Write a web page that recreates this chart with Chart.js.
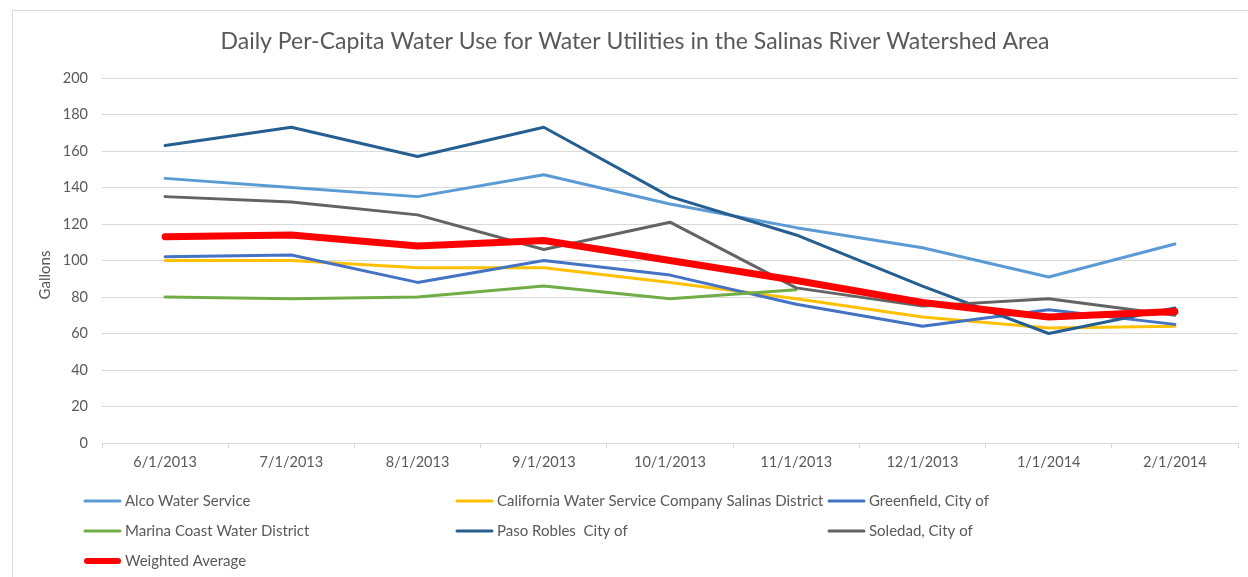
<!DOCTYPE html>
<html>
<head>
<meta charset="utf-8">
<title>Daily Per-Capita Water Use</title>
<script src="https://cdn.jsdelivr.net/npm/chart.js@4/dist/chart.umd.min.js"></script>
<style>
  html, body { margin: 0; padding: 0; background: #fff; }
  #wrap { width: 1248px; height: 577px; position: relative; }
</style>
</head>
<body>
<div id="wrap"><canvas id="waterUseChart"></canvas></div>
<script>
// === Data ===

const months = ["6/1/2013", "7/1/2013", "8/1/2013", "9/1/2013", "10/1/2013", "11/1/2013", "12/1/2013", "1/1/2014", "2/1/2014"];

const alcoWater = [145, 140, 135, 147, 131, 118, 107, 91, 109];
const californiaWater = [100, 100, 96, 96, 88, 79, 69, 63, 64];
const greenfield = [102, 103, 88, 100, 92, 76, 64, 73, 65];
const marinaCoast = [80, 79, 80, 86, 79, 84, null, null, null];
const pasoRobles = [163, 173, 157, 173, 135, 114, 86, 60, 74];
const soledad = [135, 132, 125, 106, 121, 85, 75, 79, 70];
const weightedAverage = [113, 114, 108, 111, 100, 89, 77, 69, 72];

const seriesNames = [
  "Alco Water Service",
  "California Water Service Company Salinas District",
  "Greenfield, City of",
  "Marina Coast Water District",
  "Paso Robles  City of",
  "Soledad, City of",
  "Weighted Average"
];
const seriesValues = [alcoWater, californiaWater, greenfield, marinaCoast, pasoRobles, soledad, weightedAverage];
const seriesColors = ["#5b9bd5", "#ffc000", "#4472c4", "#70ad47", "#255e91", "#636363", "#ff0000"];

const yTicks = { min: 0, max: 200, step: 20 };

const chartTitle = "Daily Per-Capita Water Use for Water Utilities in the Salinas River Watershed Area";
const yTitle = "Gallons";

// === Styling ===

const FONT = "Lato, 'Open Sans', sans-serif";
const TEXT = "#595959";
const GRID = "#d9d9d9";

// frame, title, axis title and the three-column legend
const decorations = {
  id: "decorations",
  beforeDraw(chart) {
    const ctx = chart.ctx;
    ctx.save();
    ctx.strokeStyle = GRID;
    ctx.lineWidth = 1;
    ctx.beginPath();
    ctx.moveTo(12.5, 577);
    ctx.lineTo(12.5, 10.5);
    ctx.lineTo(1248, 10.5);
    ctx.stroke();
    ctx.restore();
  },
  afterDraw(chart) {
    const ctx = chart.ctx;
    ctx.save();
    ctx.fillStyle = TEXT;

    ctx.font = `23px ${FONT}`;
    ctx.textAlign = "center";
    ctx.textBaseline = "middle";
    ctx.fillText(chartTitle, 635, 42);

    ctx.save();
    ctx.translate(45, 275);
    ctx.rotate(-Math.PI / 2);
    ctx.font = `15px ${FONT}`;
    ctx.fillText(yTitle, 0, 0);
    ctx.restore();

    ctx.font = `15px ${FONT}`;
    ctx.textAlign = "left";
    seriesNames.forEach((name, i) => {
      const col = i % 3;
      const row = Math.floor(i / 3);
      const x = 84 + col * 372;
      const y = 501 + row * 30;
      const thick = i === seriesNames.length - 1;
      ctx.strokeStyle = seriesColors[i];
      ctx.lineWidth = thick ? 6 : 3;
      ctx.lineCap = "round";
      ctx.beginPath();
      ctx.moveTo(x + (thick ? 3 : 1), y);
      ctx.lineTo(x + 37 - (thick ? 3 : 1), y);
      ctx.stroke();
      ctx.fillText(name, x + 41, y);
    });
    ctx.restore();
  }
};

// === Chart ===

function buildDatasets() {
  return seriesNames.map((name, i) => {
    const thick = i === seriesNames.length - 1;
    return {
      label: name,
      data: seriesValues[i],
      borderColor: seriesColors[i],
      backgroundColor: seriesColors[i],
      borderWidth: thick ? 7 : 3,
      borderCapStyle: "round",
      borderJoinStyle: "round",
      pointRadius: 0,
      pointHoverRadius: 0,
      tension: 0,
      spanGaps: false,
      order: seriesNames.length - i
    };
  });
}

function renderChart() {
  const ctx = document.getElementById("waterUseChart");

  return new Chart(ctx, {
    type: "line",
    data: { labels: months, datasets: buildDatasets() },
    options: {
      responsive: true,
      maintainAspectRatio: false,
      animation: false,
      layout: { padding: { left: 12, right: 10, top: 78, bottom: 104 } },
      plugins: {
        legend: { display: false },
        title: { display: false },
        tooltip: { enabled: false }
      },
      scales: {
        x: {
          offset: true,
          grid: {
            display: true,
            drawOnChartArea: false,
            drawTicks: true,
            tickLength: 5,
            color: GRID,
            offset: true
          },
          border: { display: true, color: GRID, width: 1 },
          ticks: {
            color: TEXT,
            font: { family: FONT, size: 14.5 },
            padding: 6,
            maxRotation: 0,
            autoSkip: false
          },
          afterFit(scale) { scale.height = 30; }
        },
        y: {
          min: yTicks.min,
          max: yTicks.max,
          grid: { color: GRID, drawTicks: false },
          border: { display: false },
          ticks: {
            stepSize: yTicks.step,
            color: TEXT,
            font: { family: FONT, size: 14.5 },
            padding: 14
          },
          afterFit(scale) { scale.width = 90; }
        }
      }
    },
    plugins: [decorations]
  });
}

document.addEventListener("DOMContentLoaded", () => {
  renderChart();
});
</script>
</body>
</html>
